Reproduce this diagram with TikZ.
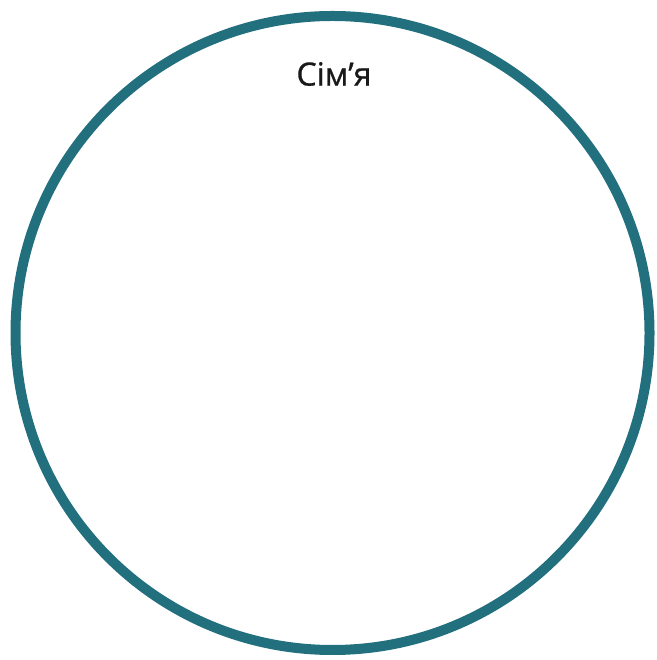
\documentclass[tikz,border=0pt]{standalone}
\usepackage{fontspec}
\setmainfont{Open Sans}
\newfontfamily\titlefont[FakeBold=0.9]{Open Sans}
\definecolor{ring}{RGB}{34,111,126}
\tikzset{ringline/.style={draw=ring,line width=10pt},
  title/.style={font=\titlefont\fontsize{32}{36}\selectfont,text=black!90,inner sep=0pt}}
\begin{document}
\begin{tikzpicture}[x=1pt,y=1pt]
\useasboundingbox (0,0) rectangle (656,660);
\path[ringline] (332.5,327) circle (317);
\node[title] (t) at (334,586) {Сім’я};
\end{tikzpicture}
\end{document}
